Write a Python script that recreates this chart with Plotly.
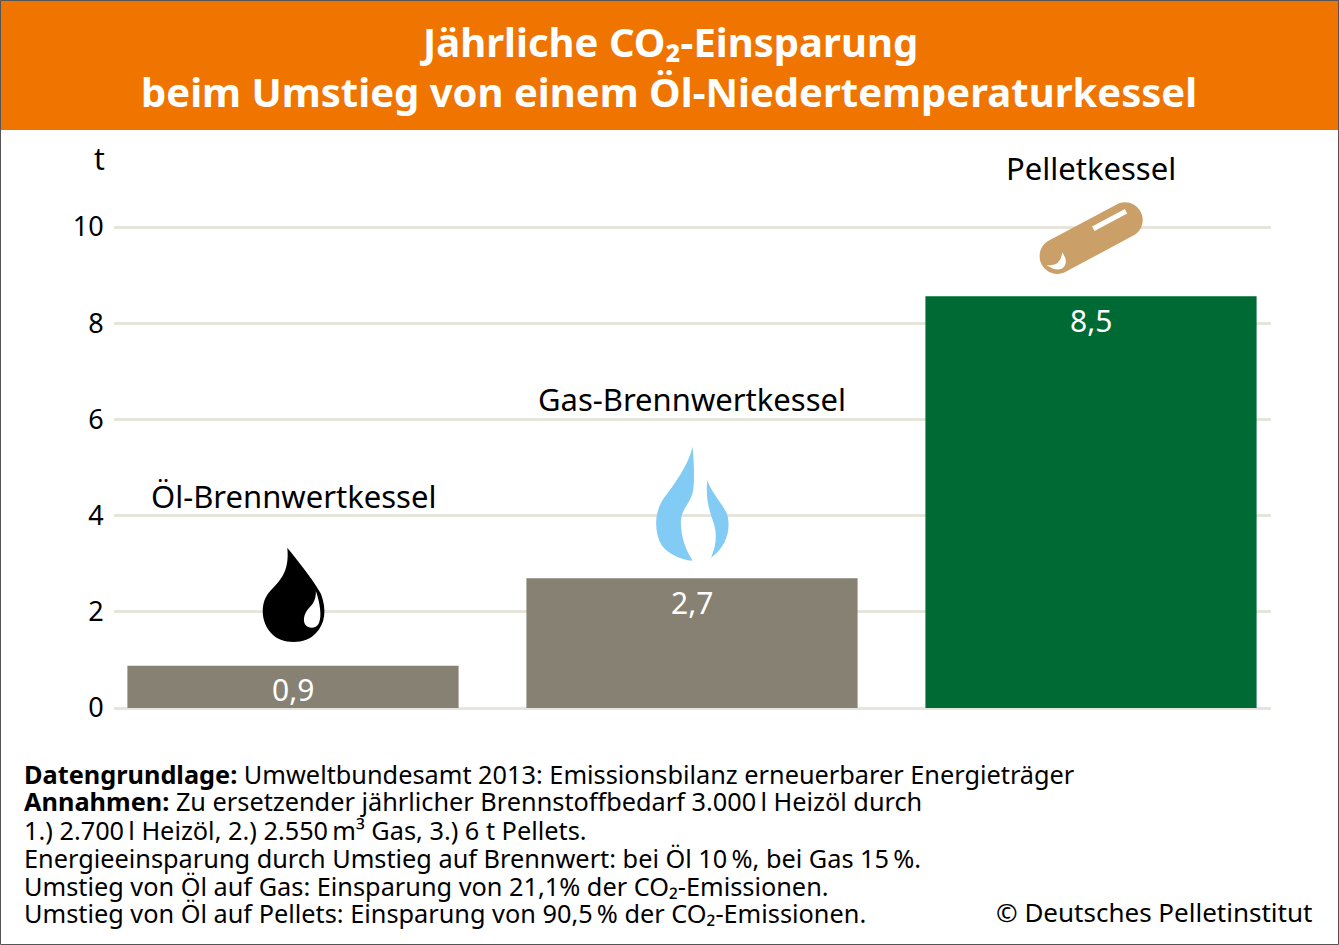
import plotly.graph_objects as go

W, H = 1339, 945
FONT = "Noto Sans"

# ---- data ----
categories = ["Öl-Brennwertkessel", "Gas-Brennwertkessel", "Pelletkessel"]
values = [0.88, 2.70, 8.56]
value_labels = ["0,9", "2,7", "8,5"]
bar_colors = ["#868173", "#868173", "#006a34"]
y_ticks = [0, 2, 4, 6, 8, 10]
y_unit = "t"
title_lines = ["Jährliche CO₂-Einsparung",
               "beim Umstieg von einem Öl-Niedertemperaturkessel"]
note_lines = [
    "<b>Datengrundlage:</b> Umweltbundesamt 2013: Emissionsbilanz erneuerbarer Energieträger",
    "<b>Annahmen:</b> Zu ersetzender jährlicher Brennstoffbedarf 3.000\u2009l Heizöl durch",
    "1.) 2.700\u2009l Heizöl, 2.) 2.550\u2009m³ Gas, 3.) 6 t Pellets.",
    "Energieeinsparung durch Umstieg auf Brennwert: bei Öl 10\u2009%, bei Gas 15\u2009%.",
    "Umstieg von Öl auf Gas: Einsparung von 21,1% der CO₂-Emissionen.",
    "Umstieg von Öl auf Pellets: Einsparung von 90,5\u2009% der CO₂-Emissionen.",
]
credit = "© Deutsches Pelletinstitut"


def px(x):
    return x / W


def py(y):
    return 1 - y / H


def P(cmds):
    """SVG path in paper coordinates from (cmd, x, y, ...) tuples given in page pixels."""
    out = []
    for c in cmds:
        nums = c[1:]
        pairs = [f"{px(nums[i]):.5f},{py(nums[i + 1]):.5f}" for i in range(0, len(nums), 2)]
        out.append(c[0] + " ".join(pairs))
    return " ".join(out) + " Z"


def icon(cmds, color):
    return dict(type="path", xref="paper", yref="paper", path=P(cmds),
                fillcolor=color, line=dict(width=0), layer="above")


def capsule(c0, c1, r):
    """Rounded capsule icon between two end centres (page pixels)."""
    dx, dy = c1[0] - c0[0], c1[1] - c0[1]
    ln = (dx * dx + dy * dy) ** 0.5
    u = (dx / ln, dy / ln)
    n = (-u[1], u[0])
    k = 0.5523 * r

    def pt(c, a, b):
        return (c[0] + a * u[0] + b * n[0], c[1] + a * u[1] + b * n[1])

    cmds = [("M", *pt(c0, 0, r)), ("L", *pt(c1, 0, r)),
            ("C", *pt(c1, k, r), *pt(c1, r, k), *pt(c1, r, 0)),
            ("C", *pt(c1, r, -k), *pt(c1, k, -r), *pt(c1, 0, -r)),
            ("L", *pt(c0, 0, -r)),
            ("C", *pt(c0, -k, -r), *pt(c0, -r, -k), *pt(c0, -r, 0)),
            ("C", *pt(c0, -r, k), *pt(c0, -k, r), *pt(c0, 0, r))]
    return cmds


drop = [("M", 287.3, 547.7),
        ("C", 302, 566, 316, 584, 321, 594),
        ("C", 327, 610, 325, 624, 316, 633),
        ("C", 306, 645, 281, 645, 271, 633),
        ("C", 261, 622, 260, 604, 268.5, 593),
        ("C", 278, 582, 290, 574, 287.3, 547.7)]
drop_hi = [("M", 315.9, 591),
           ("C", 320, 603, 322, 616, 319, 623),
           ("C", 316, 629, 309, 629, 305.5, 625),
           ("C", 302, 620, 305, 612, 309, 608),
           ("C", 313, 604, 316, 600, 315.9, 591)]
flame_l = [("M", 692.6, 446.7),
           ("C", 694, 465, 695, 482, 692.6, 493),
           ("C", 689, 505, 681, 510, 680.8, 522),
           ("C", 681, 538, 686, 550, 692.6, 560.7),
           ("C", 680, 560, 667, 553, 661.5, 545),
           ("C", 654, 532, 654, 512, 664, 498),
           ("C", 675, 483, 688, 466, 692.6, 446.7)]
flame_r = [("M", 707.3, 480),
           ("C", 711, 492, 722, 503, 727, 514),
           ("C", 731, 527, 728, 546, 711, 557.7),
           ("C", 716, 546, 717, 536, 714.5, 526),
           ("C", 711, 514, 705, 502, 707.3, 480)]
crescent = [("M", 1062.3, 252.5),
            ("Q", 1068.5, 261, 1064, 267),
            ("Q", 1058, 273, 1046.5, 265),
            ("Q", 1054, 266, 1058, 262.5),
            ("Q", 1061.5, 259, 1062.3, 252.5)]

shapes = [
    dict(type="rect", xref="paper", yref="paper", x0=0, x1=1, y0=py(130), y1=1,
         fillcolor="#f07400", line=dict(width=0), layer="below"),
    icon(drop, "#000000"),
    icon(drop_hi, "#ffffff"),
    icon(flame_l, "#82cbf5"),
    icon(flame_r, "#82cbf5"),
    icon(capsule((1057.3, 256.2), (1125, 220), 17.7), "#cb9f68"),
    icon(crescent, "#ffffff"),
    dict(type="line", xref="paper", yref="paper", x0=px(1093.3), y0=py(228.8), x1=px(1126), y1=py(211.2),
         line=dict(color="#ffffff", width=5), layer="above"),
    dict(type="rect", xref="paper", yref="paper", x0=px(0.5), x1=px(W - 0.5), y0=py(H - 0.5), y1=py(0.5),
         fillcolor="rgba(0,0,0,0)", line=dict(color="#555555", width=1), layer="above"),
]

ann = []


def text(x, y, s, size, color="#000000", anchor="left", font=FONT):
    ann.append(dict(xref="paper", yref="paper", x=px(x), y=py(y), text=s, showarrow=False,
                    xanchor=anchor, yanchor="middle", align=anchor,
                    font=dict(family=font, size=size, color=color),
                    borderpad=0, borderwidth=0))


title_y = [41, 91]
for yy, s in zip(title_y, title_lines):
    text(669, yy, f"<b>{s}</b>", 40, "#ffffff", "center")

label_y = [496, 399, 168]
label_x = [293.5, 692, 1091]
for xx, yy, s in zip(label_x, label_y, categories):
    text(xx, yy, s, 31, "#000000", "center")

text(99, 158, y_unit, 30, "#000000", "center")

for i, (v, s) in enumerate(zip(values, value_labels)):
    ann.append(dict(xref="x", yref="y", x=i, y=v, text=s, showarrow=False, yshift=-24,
                    xanchor="center", yanchor="middle",
                    font=dict(family=FONT, size=30, color="#ffffff")))

note_y = [774, 801, 830, 858, 886, 913]
for yy, s in zip(note_y, note_lines):
    text(24, yy, s, 25.3, "#000000", "left")
text(1312, 912, credit, 26, "#000000", "right")

fig = go.Figure(go.Bar(
    x=[0, 1, 2], y=values, width=0.83, marker=dict(color=bar_colors, line=dict(width=0)),
    hoverinfo="skip", showlegend=False))

fig.update_layout(
    width=W, height=H, autosize=False, margin=dict(l=0, r=0, t=0, b=0, pad=0, autoexpand=False),
    paper_bgcolor="#ffffff", plot_bgcolor="rgba(0,0,0,0)",
    showlegend=False, shapes=shapes, annotations=ann,
    font=dict(family=FONT),
    xaxis=dict(domain=[px(114), px(1271)], range=[-0.4486, 2.4511], showticklabels=False,
               showgrid=False, zeroline=False, ticks="", fixedrange=True, automargin=False),
    yaxis=dict(domain=[py(708), py(130)], range=[0, 12.017], tickmode="array", tickvals=y_ticks,
               ticktext=[str(t) for t in y_ticks], showgrid=True, gridcolor="#e6e5dc", gridwidth=2.5,
               zeroline=True, zerolinecolor="#e6e5dc", zerolinewidth=3, showline=False,
               ticks="outside", ticklen=4, tickcolor="rgba(0,0,0,0)", automargin=False,
               tickfont=dict(family=FONT, size=27, color="#000000"), fixedrange=True),
)

fig.write_html("out.html", config={"displayModeBar": False, "responsive": False},
               default_width=f"{W}px", default_height=f"{H}px",
               post_script="document.body.style.margin='0';")
